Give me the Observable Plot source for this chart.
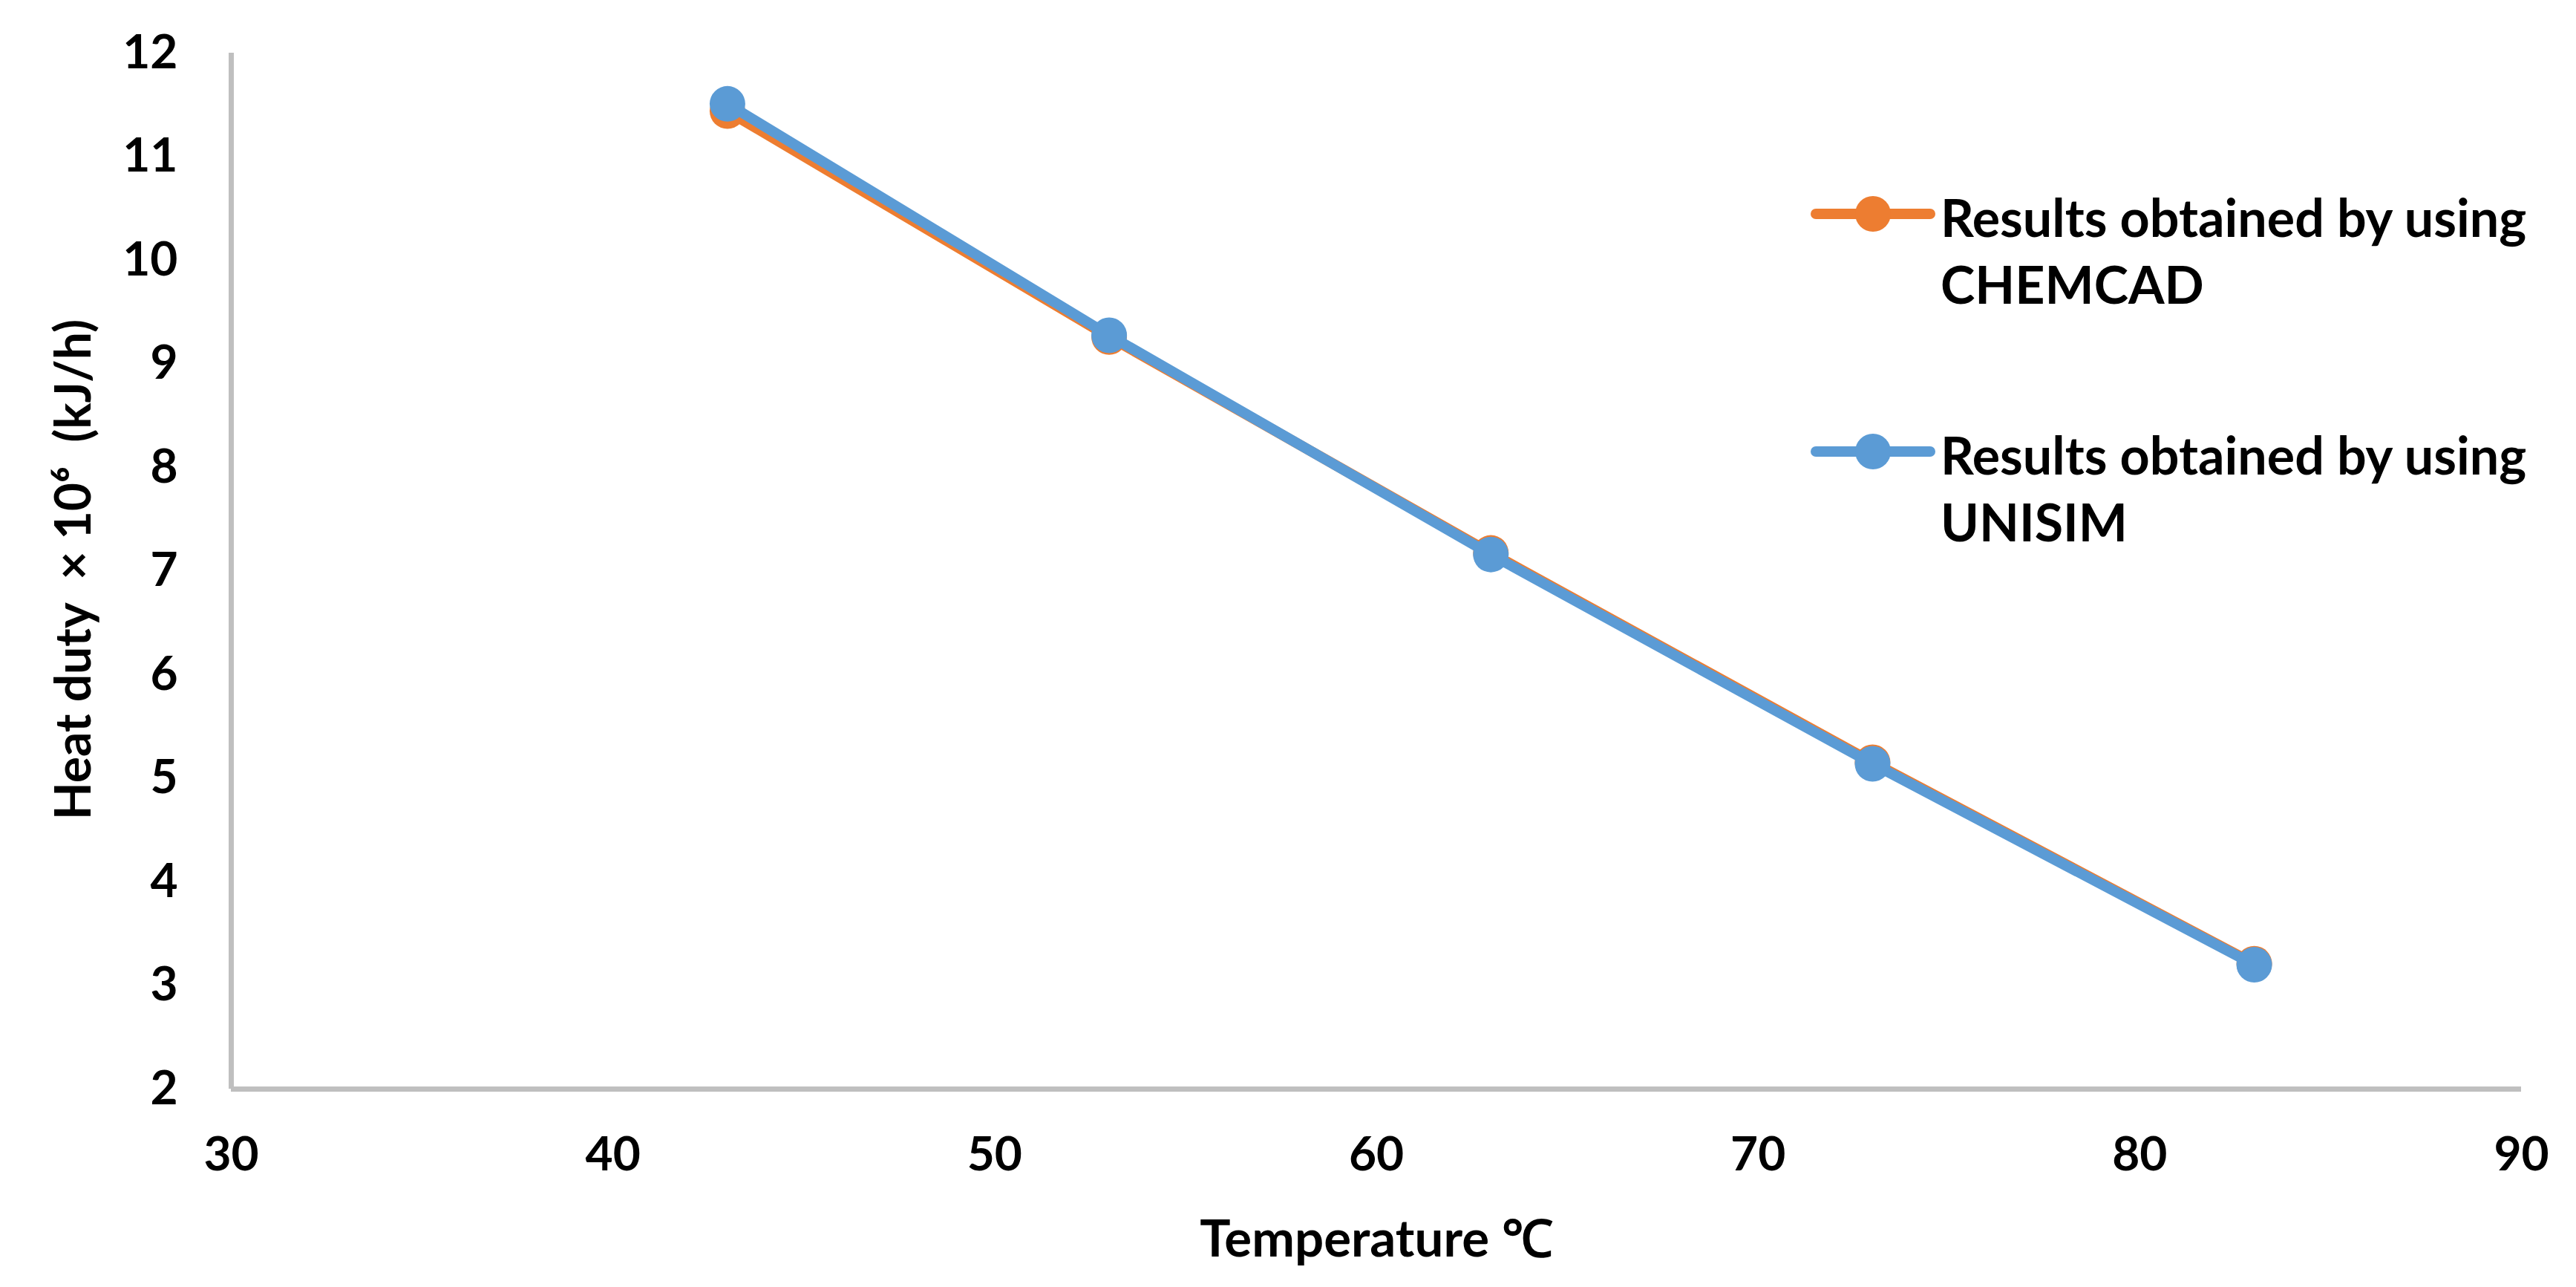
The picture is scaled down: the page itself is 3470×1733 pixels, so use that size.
<!DOCTYPE html>
<html><head><meta charset="utf-8">
<script src="https://cdn.jsdelivr.net/npm/d3@7"></script>
<script src="https://cdn.jsdelivr.net/npm/@observablehq/plot@0.6"></script>
<style>
html,body{margin:0;padding:0;background:#fff;}
#wrap{position:relative;width:3470px;height:1733px;font-family:Lato,"Open Sans",sans-serif;overflow:hidden;}
.lg-text{position:absolute;font-family:Lato,"Open Sans",sans-serif;font-weight:700;font-size:70px;line-height:90px;color:#000;white-space:nowrap;}
.lg-sw{position:absolute;}
</style></head><body><div id="wrap"></div>
<script>
// ---- data ----
const temperatures = [43, 53, 63, 73, 83];
const chemcad = [11.44, 9.26, 7.175, 5.155, 3.21];
const unisim = [11.51, 9.276, 7.16, 5.14, 3.20];
const seriesNames = ["Results obtained by using CHEMCAD", "Results obtained by using UNISIM"];
const seriesColors = ["#ED7D31", "#5B9BD5"];
const xTicks = [30, 40, 50, 60, 70, 80, 90];
const yTicks = [2, 3, 4, 5, 6, 7, 8, 9, 10, 11, 12];
const xLabel = "Temperature \u2103";
const yLabel = "Heat duty \u00A0\u00D7 10\u2076 \u00A0(kJ/h)";

const seriesValues = [chemcad, unisim];
const rows = [];
seriesValues.forEach((vals, s) => vals.forEach((v, i) => rows.push({series: seriesNames[s], t: temperatures[i], q: v})));

const FS = 64;
const marks = [
  Plot.ruleY([yTicks[0]], {stroke: "#BFBFBF", strokeWidth: 7}),
  Plot.ruleX([xTicks[0]], {stroke: "#BFBFBF", strokeWidth: 7}),
  Plot.axisX({ticks: xTicks, tickSize: 0, tickPadding: 64, label: null, fontSize: FS, fontWeight: 700, fill: "#000"}),
  Plot.axisY({ticks: yTicks, tickSize: 0, tickPadding: 72, label: null, fontSize: FS, fontWeight: 700, fill: "#000"}),
];
seriesNames.forEach((name, s) => {
  const d = rows.filter(r => r.series === name);
  marks.push(Plot.line(d, {x: "t", y: "q", stroke: seriesColors[s], strokeWidth: 14, strokeLinejoin: "round", strokeLinecap: "round"}));
  marks.push(Plot.dot(d, {x: "t", y: "q", r: 24, fill: seriesColors[s], stroke: "none"}));
});
marks.push(Plot.text([xLabel], {frameAnchor: "bottom", dy: 203, lineAnchor: "middle", fontSize: 69, fontWeight: 700, fill: "#000"}));
marks.push(Plot.text([yLabel], {frameAnchor: "left", rotate: -90, textAnchor: "middle", lineAnchor: "middle", dx: -211, dy: -2, fontSize: 66, fontWeight: 700, fill: "#000"}));

const chart = Plot.plot({
  width: 3470, height: 1733,
  marginLeft: 311, marginRight: 74, marginTop: 71, marginBottom: 267,
  style: {fontFamily: "Lato, 'Open Sans', sans-serif", fontSize: FS + "px", fontWeight: 700, background: "#fff", color: "#000"},
  x: {domain: [xTicks[0], xTicks[xTicks.length - 1]]},
  y: {domain: [yTicks[0], yTicks[yTicks.length - 1]]},
  marks
});
const wrap = document.getElementById("wrap");
wrap.appendChild(chart);

// ---- legend (HTML overlay) ----
const legendTops = [292, 612];
seriesNames.forEach((name, s) => {
  const cy = legendTops[s];
  const sw = document.createElementNS("http://www.w3.org/2000/svg", "svg");
  sw.setAttribute("class", "lg-sw");
  sw.setAttribute("width", 170); sw.setAttribute("height", 60);
  sw.style.left = "2438px"; sw.style.top = (cy - 4 - 30) + "px";
  sw.innerHTML = `<line x1="8" y1="30" x2="162" y2="30" stroke="${seriesColors[s]}" stroke-width="14" stroke-linecap="round"/>` +
                 `<circle cx="85" cy="30" r="24" fill="${seriesColors[s]}"/>`;
  wrap.appendChild(sw);
  const words = name.split(" ");
  const last = words.pop();
  const t = document.createElement("div");
  t.className = "lg-text";
  t.style.left = "2614px"; t.style.top = (cy - 45) + "px";
  t.innerHTML = words.join(" ") + "<br>" + last;
  wrap.appendChild(t);
});
</script></body></html>
